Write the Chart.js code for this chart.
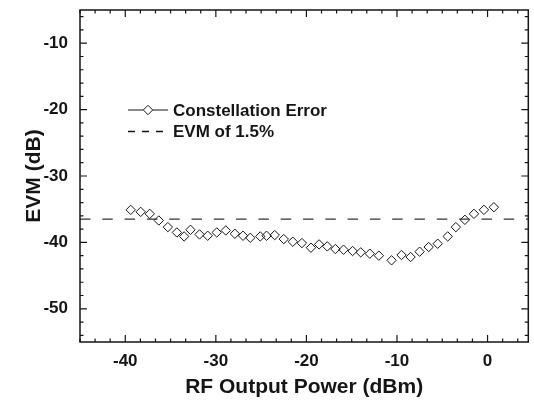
<!DOCTYPE html>
<html><head><meta charset="utf-8">
<script src="https://cdn.jsdelivr.net/npm/chart.js@4.4.1/dist/chart.umd.min.js"></script>
<style>html,body{margin:0;padding:0;background:#fff}canvas{display:block}</style>
</head><body>
<canvas id="c" width="534" height="404"></canvas>
<script>
// ---- data ----
const rfPower = [-39.4, -38.3, -37.3, -36.3, -35.3, -34.3, -33.5, -32.8, -31.8, -30.9, -29.9, -28.9, -27.9, -27.0, -26.2, -25.1, -24.4, -23.5, -22.5, -21.5, -20.5, -19.5, -18.6, -17.7, -16.8, -15.9, -14.9, -14.0, -13.0, -12.0, -10.6, -9.5, -8.5, -7.5, -6.5, -5.5, -4.4, -3.5, -2.5, -1.5, -0.4, 0.7];
const evmMeasured = [-35.1, -35.4, -35.7, -36.7, -37.7, -38.5, -39.1, -38.1, -38.8, -39.0, -38.5, -38.2, -38.7, -39.0, -39.3, -39.1, -39.0, -38.9, -39.5, -39.9, -40.1, -40.8, -40.3, -40.6, -41.0, -41.1, -41.3, -41.5, -41.7, -42.0, -42.7, -41.9, -42.2, -41.4, -40.7, -40.2, -39.1, -37.7, -36.6, -35.7, -35.1, -34.7];
const evmLimit = -36.5; // EVM of 1.5% in dB
const seriesLabels = ['Constellation Error', 'EVM of 1.5%'];
const xRange = [-45, 4.5];
const yRange = [-55, -5];
const xTickValues = [-40, -30, -20, -10, 0];
const yTickValues = [-50, -40, -30, -20, -10];
const xMinorStep = 10 / 6;
const yMinorStep = 2;

const INK = '#151515';
const FONT = '"Liberation Sans", Arial, Helvetica, sans-serif';

const framePlugin = {
  id: 'frame',
  afterDraw(chart) {
    const {ctx, chartArea: a, scales: {x, y}} = chart;
    ctx.save();
    ctx.strokeStyle = INK;
    ctx.lineWidth = 1.5;
    ctx.strokeRect(a.left, a.top, a.right - a.left, a.bottom - a.top);
    ctx.lineWidth = 1.2;
    const major = 7, minor = 3.5;
    ctx.beginPath();
    for (let k = 0; ; k++) {
      const v = xRange[0] + k * xMinorStep;
      if (v > xRange[1] + 1e-6) break;
      const px = x.getPixelForValue(v);
      const isMajor = xTickValues.some(t => Math.abs(t - v) < 1e-6);
      const len = isMajor ? major : minor;
      ctx.moveTo(px, a.bottom); ctx.lineTo(px, a.bottom - len);
      ctx.moveTo(px, a.top); ctx.lineTo(px, a.top + len);
    }
    for (let v = Math.ceil(yRange[0] / yMinorStep) * yMinorStep; v <= yRange[1]; v += yMinorStep) {
      if (v === yRange[0] || v === yRange[1]) continue;
      const py = y.getPixelForValue(v);
      const isMajor = yTickValues.includes(v);
      const len = isMajor ? major : minor;
      ctx.moveTo(a.left, py); ctx.lineTo(a.left + len, py);
      ctx.moveTo(a.right, py); ctx.lineTo(a.right - len, py);
    }
    ctx.stroke();

    // legend (inside the plot)
    const rows = [110, 131.5];
    const x0 = 128, x1 = 168, tx = 173;
    ctx.font = 'bold 17px ' + FONT;
    ctx.fillStyle = INK;
    ctx.textBaseline = 'middle';
    ctx.textAlign = 'left';
    const d0 = chart.data.datasets[0];
    const cx = (x0 + x1) / 2, r = d0.pointRadius;
    ctx.lineWidth = 1;
    ctx.beginPath();
    ctx.moveTo(x0, rows[0]); ctx.lineTo(cx - r, rows[0]);
    ctx.moveTo(cx + r, rows[0]); ctx.lineTo(x1, rows[0]);
    ctx.moveTo(cx - r, rows[0]); ctx.lineTo(cx, rows[0] - r);
    ctx.lineTo(cx + r, rows[0]); ctx.lineTo(cx, rows[0] + r); ctx.closePath();
    ctx.stroke();
    ctx.fillText(d0.label, tx, rows[0] + 1);
    const d1 = chart.data.datasets[1];
    ctx.lineWidth = d1.borderWidth;
    ctx.setLineDash([7, 7]);
    ctx.beginPath(); ctx.moveTo(x0, rows[1]); ctx.lineTo(x1, rows[1]); ctx.stroke();
    ctx.setLineDash([]);
    ctx.fillText(d1.label, tx, rows[1] + 1);
    ctx.restore();
  }
};

new Chart(document.getElementById('c'), {
  type: 'scatter',
  data: {
    datasets: [
      {
        label: seriesLabels[0],
        data: rfPower.map((v, i) => ({x: v, y: evmMeasured[i]})),
        showLine: false,
        pointStyle: 'rectRot',
        pointRadius: 4.7,
        pointBorderWidth: 1,
        borderColor: INK,
        backgroundColor: 'rgba(0,0,0,0)'
      },
      {
        label: seriesLabels[1],
        data: xRange.map(v => ({x: v, y: evmLimit})),
        showLine: true,
        borderDash: [10.5, 11.8],
        borderWidth: 1.3,
        borderColor: '#333',
        pointRadius: 0
      }
    ]
  },
  options: {
    responsive: false,
    animation: false,
    devicePixelRatio: 1,
    layout: {padding: {top: 10, right: 2, left: 0, bottom: 0}},
    plugins: {legend: {display: false}, tooltip: {enabled: false}},
    scales: {
      x: {
        type: 'linear', min: xRange[0], max: xRange[1],
        afterBuildTicks: s => { s.ticks = xTickValues.map(v => ({value: v})); },
        afterFit: s => { s.height = 62; s.paddingLeft = 0; s.paddingRight = 0; },
        grid: {display: false, drawTicks: false},
        border: {display: false},
        ticks: {padding: 9, color: INK, font: {family: FONT, size: 17, weight: 'bold'}},
        title: {display: true, text: 'RF Output Power (dBm)', color: INK,
                font: {family: FONT, size: 21, weight: 'bold'}, padding: {top: 0, bottom: 4}}
      },
      y: {
        type: 'linear', min: yRange[0], max: yRange[1],
        afterBuildTicks: s => { s.ticks = yTickValues.map(v => ({value: v})); },
        afterFit: s => { s.width = 80; s.paddingTop = 0; s.paddingBottom = 0; },
        grid: {display: false, drawTicks: false},
        border: {display: false},
        ticks: {padding: 12, color: INK, font: {family: FONT, size: 17, weight: 'bold'}},
        title: {display: true, text: 'EVM (dB)', color: INK,
                font: {family: FONT, size: 21, weight: 'bold'}, padding: {top: 22, bottom: 0}}
      }
    }
  },
  plugins: [framePlugin]
});
</script>
</body></html>
